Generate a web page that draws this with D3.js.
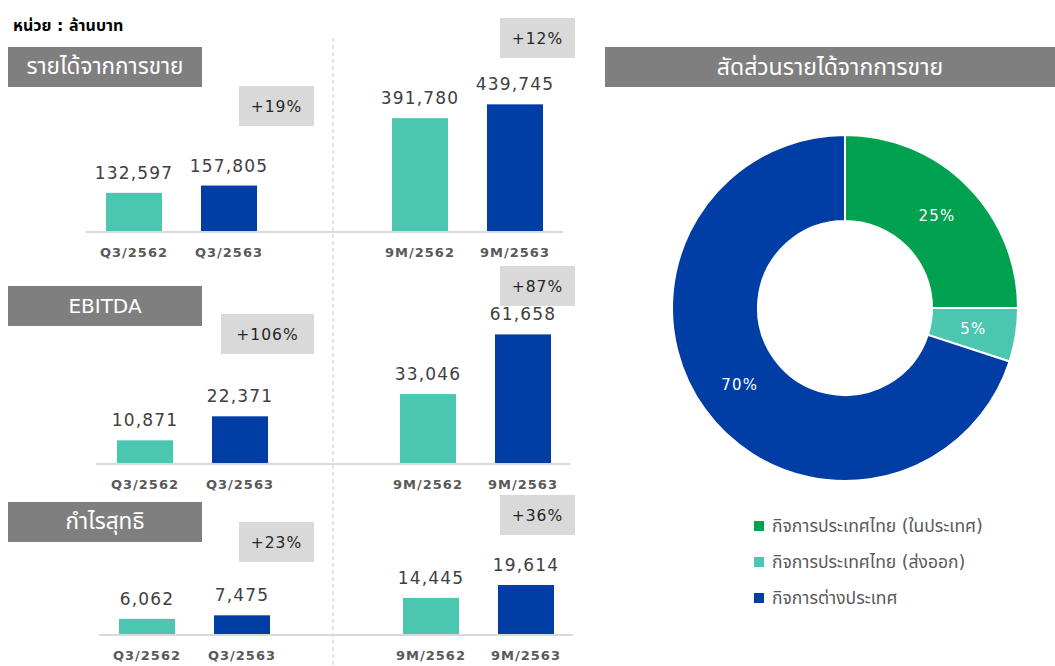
<!DOCTYPE html>
<html><head><meta charset="utf-8">
<script src="https://cdn.jsdelivr.net/npm/d3@7"></script>
<style>
body{margin:0;background:#fff;}
svg{display:block;}
text{font-family:"DejaVu Sans","Noto Sans Thai","Noto Sans",sans-serif;}
</style></head>
<body><svg id="c" width="1055" height="666"></svg>
<script>
const unitLabel = "หน่วย : ล้านบาท";
const panelTitles = ["รายได้จากการขาย", "EBITDA", "กำไรสุทธิ"];
const qCategories = ["Q3/2562", "Q3/2563"];
const ytdCategories = ["9M/2562", "9M/2563"];
const revenueQ = [132597, 157805];
const revenueYtd = [391780, 439745];
const ebitdaQ = [10871, 22371];
const ebitdaYtd = [33046, 61658];
const netProfitQ = [6062, 7475];
const netProfitYtd = [14445, 19614];
const growthQ = ["+19%", "+106%", "+23%"];
const growthYtd = ["+12%", "+87%", "+36%"];
const pieTitle = "สัดส่วนรายได้จากการขาย";
const pieLabels = ["กิจการประเทศไทย (ในประเทศ)", "กิจการประเทศไทย (ส่งออก)", "กิจการต่างประเทศ"];
const pieValues = [25, 5, 70];

const barColors = ["#4BC6B1", "#003DA5"];
const pieColors = ["#00A14F", "#4BC6B1", "#003DA5"];

const svg = d3.select("#c");

// unit label
svg.append("text").attr("x", 13).attr("y", 31).attr("font-size", 16).attr("font-weight", "bold")
  .attr("fill", "#000").text(unitLabel);

// divider
svg.append("line").attr("x1", 333).attr("x2", 333).attr("y1", 38).attr("y2", 666)
  .attr("stroke", "#c8c8c8").attr("stroke-width", 1).attr("stroke-dasharray", "4,3");

const panelData = [
  {q: revenueQ, y: revenueYtd},
  {q: ebitdaQ, y: ebitdaYtd},
  {q: netProfitQ, y: netProfitYtd}
];
const layout = [
  {hy: 47, base: 231, qs: 86.5, ys: 372.5, l: [86, 563], dmax: 500000, h: 144,
   gq: [239, 86, 75], gy: [500, 18, 75], fs: 22.5},
  {hy: 286, base: 463, qs: 97.5, ys: 380.5, l: [96, 570], dmax: 70000, h: 146,
   gq: [221, 314, 93], gy: [500, 266, 75], fs: 20},
  {hy: 502, base: 634, qs: 99.5, ys: 383.5, l: [99, 573], dmax: 20000, h: 50,
   gq: [239, 522, 75], gy: [500, 495, 75], fs: 22.5}
];

function growthBox(x, y, w, label) {
  svg.append("rect").attr("x", x).attr("y", y).attr("width", w).attr("height", 40).attr("fill", "#D9D9D9");
  svg.append("text").attr("x", x + w / 2).attr("y", y + 26).attr("text-anchor", "middle")
    .attr("font-size", 15.5).attr("letter-spacing", 1).attr("fill", "#262626").text(label);
}

panelData.forEach((pd, i) => {
  const L = layout[i];
  // header
  svg.append("rect").attr("x", 8).attr("y", L.hy).attr("width", 194).attr("height", 40).attr("fill", "#7F7F7F");
  svg.append("text").attr("x", 105).attr("y", L.hy + 27).attr("text-anchor", "middle")
    .attr("font-size", L.fs).attr("fill", "#fff").text(panelTitles[i]);

  growthBox(L.gq[0], L.gq[1], L.gq[2], growthQ[i]);
  growthBox(L.gy[0], L.gy[1], L.gy[2], growthYtd[i]);

  const y = d3.scaleLinear().domain([0, L.dmax]).range([L.base, L.base - L.h]);
  const groups = [
    {cats: qCategories, vals: pd.q, x: d3.scaleBand().domain(qCategories).range([L.qs, L.qs + 190]).paddingInner(0.41).paddingOuter(0.205)},
    {cats: ytdCategories, vals: pd.y, x: d3.scaleBand().domain(ytdCategories).range([L.ys, L.ys + 190]).paddingInner(0.41).paddingOuter(0.205)}
  ];
  // baseline
  svg.append("line").attr("x1", L.l[0]).attr("x2", L.l[1]).attr("y1", L.base + 1).attr("y2", L.base + 1)
    .attr("stroke", "#D9D9D9").attr("stroke-width", 2);

  groups.forEach(g => {
    const data = g.cats.map((c, k) => ({c, v: g.vals[k], k}));
    svg.append("g").selectAll("rect").data(data).join("rect")
      .attr("x", d => g.x(d.c)).attr("width", g.x.bandwidth())
      .attr("y", d => y(d.v)).attr("height", d => y(0) - y(d.v))
      .attr("fill", d => barColors[d.k]);
    svg.append("g").selectAll("text").data(data).join("text")
      .attr("x", d => g.x(d.c) + g.x.bandwidth() / 2).attr("y", d => y(d.v) - 14)
      .attr("text-anchor", "middle").attr("font-size", 17).attr("letter-spacing", 1.2)
      .attr("fill", "#404040").text(d => d3.format(",")(d.v));
    svg.append("g").selectAll("text").data(data).join("text")
      .attr("x", d => g.x(d.c) + g.x.bandwidth() / 2).attr("y", L.base + 26)
      .attr("text-anchor", "middle").attr("font-size", 13).attr("font-weight", "bold").attr("letter-spacing", 1)
      .attr("fill", "#595959").text(d => d.c);
  });
});

// pie
svg.append("rect").attr("x", 605).attr("y", 47).attr("width", 450).attr("height", 40).attr("fill", "#7F7F7F");
svg.append("text").attr("x", 830).attr("y", 75).attr("text-anchor", "middle")
  .attr("font-size", 23).attr("fill", "#fff").text(pieTitle);

const pie = d3.pie().sort(null).value(d => d.v);
const pdata = pie(pieLabels.map((l, i) => ({l, v: pieValues[i], i})));
const arc = d3.arc().innerRadius(87).outerRadius(173);
const lab = d3.arc().innerRadius(130).outerRadius(130);
const pg = svg.append("g").attr("transform", "translate(845,308)");
pg.selectAll("path").data(pdata).join("path").attr("d", arc)
  .attr("fill", d => pieColors[d.data.i]).attr("stroke", "#fff").attr("stroke-width", 2);
pg.selectAll("text").data(pdata).join("text")
  .attr("transform", d => `translate(${lab.centroid(d)})`).attr("dy", "0.35em")
  .attr("text-anchor", "middle").attr("font-size", 15).attr("letter-spacing", 1.2)
  .attr("fill", "#fff").text(d => d.data.v + "%");

// legend
const lg = svg.append("g");
pieLabels.forEach((l, i) => {
  const cy = 526 + i * 36;
  lg.append("rect").attr("x", 754).attr("y", cy - 5).attr("width", 10).attr("height", 10).attr("fill", pieColors[i]);
  lg.append("text").attr("x", 772).attr("y", cy).attr("dy", "0.35em").attr("font-size", 17.5)
    .attr("fill", "#595959").text(l);
});
</script></body></html>
